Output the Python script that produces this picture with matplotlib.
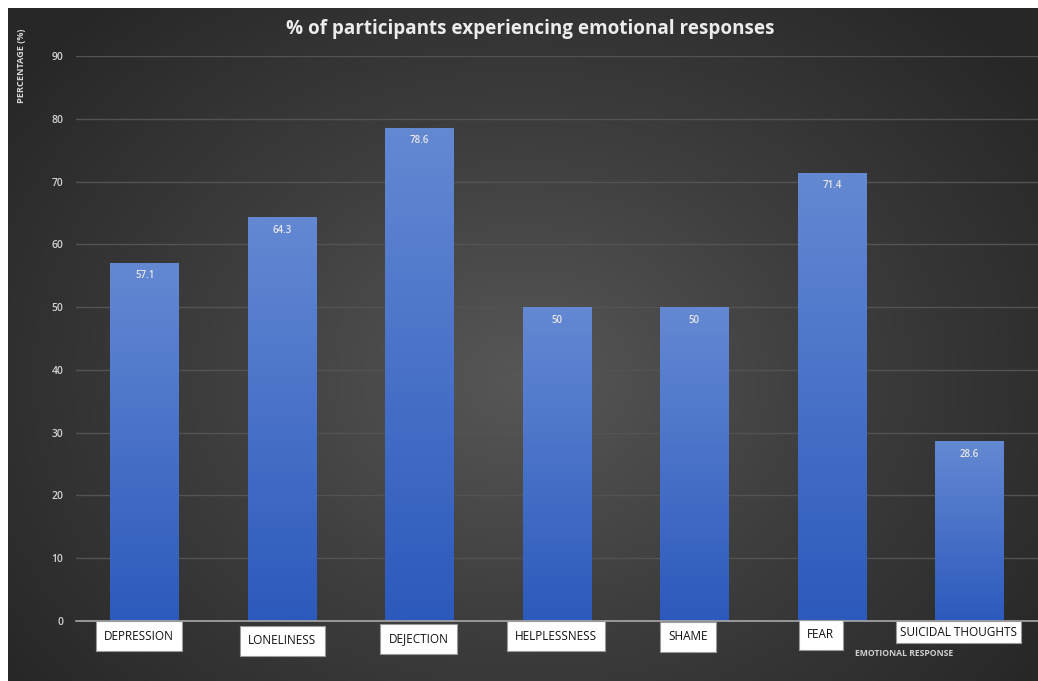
"""
Bar chart: % of participants experiencing emotional responses
(dark radial background, gradient bars, boxed category labels)
"""

import numpy as np
import matplotlib
matplotlib.use("Agg")
import matplotlib.pyplot as plt
from matplotlib.colors import LinearSegmentedColormap

# --- Data ---
CATEGORIES = ["DEPRESSION", "LONELINESS", "DEJECTION", "HELPLESSNESS",
              "SHAME", "FEAR", "SUICIDAL THOUGHTS"]
VALUES = [57.1, 64.3, 78.6, 50, 50, 71.4, 28.6]
VALUE_LABELS = ["57.1", "64.3", "78.6", "50", "50", "71.4", "28.6"]
Y_TICKS = [0, 10, 20, 30, 40, 50, 60, 70, 80, 90]

# --- Style ---
# label box offsets from the bar foot (pixels), they are staggered in the source
LABEL_OFFSETS = [(-6, -15), (0, -20), (-1, -18), (-1, -15), (-6, -16), (-11, -14), (-11, -11)]
BOX_PADS = [0.7, 0.7, 0.7, 0.7, 0.7, 0.7, 0.35]
BAR_TOP = "#6489d3"
BAR_BOTTOM = "#2c5abc"
FONT = ["Open Sans", "DejaVu Sans"]

plt.rcParams['font.family'] = FONT

W, H = 1038, 681
fig = plt.figure(figsize=(W / 100, H / 100), dpi=100)
fig.patch.set_facecolor("white")

# 1. radial dark background (white strip top and left as in the screenshot)
bg_ax = fig.add_axes([8 / W, 0, 1 - 8 / W, 1 - 8 / H])
bg_ax.set_axis_off()
yy, xx = np.mgrid[0:1:300j, 0:1:450j]
r = np.sqrt(((xx - 0.5) / 0.62) ** 2 + ((yy - 0.45) / 0.75) ** 2)
r = np.clip(r, 0, 1)
bg_cmap = LinearSegmentedColormap.from_list("bg", ["#575757", "#3d3d3d", "#272727"])
bg_ax.imshow(r, cmap=bg_cmap, aspect="auto", extent=[0, 1, 0, 1], origin="lower",
             interpolation="bilinear", vmin=0, vmax=1)
bg_ax.set_xlim(0, 1)
bg_ax.set_ylim(0, 1)

# 2. main axes
ax = fig.add_axes([76 / W, 1 - 621 / H, 1 - 76 / W, (621 - 56) / H])
ax.patch.set_alpha(0)
x = np.arange(len(CATEGORIES))
bars = ax.bar(x, VALUES, width=0.5, color=BAR_BOTTOM, zorder=2)

grad = np.linspace(0, 1, 256).reshape(-1, 1)
bar_cmap = LinearSegmentedColormap.from_list("bar", [BAR_BOTTOM, BAR_TOP])
for b in bars:
    bx, by = b.get_x(), b.get_y()
    im = ax.imshow(grad, cmap=bar_cmap, aspect="auto", origin="lower",
                   extent=[bx, bx + b.get_width(), by, by + b.get_height()], zorder=3)
    im.set_clip_path(b)

ax.set_xlim(-0.5, len(CATEGORIES) - 0.5)
ax.set_ylim(0, 90)
ax.set_yticks(Y_TICKS)
ax.set_xticks([])
ax.tick_params(axis="y", length=0, pad=9, labelsize=7.4, labelcolor="#d4d4d4")
for t in ax.get_yticklabels():
    t.set_fontweight("semibold")
ax.grid(axis="y", color="#535353", linewidth=1.0, zorder=1)
for s in ["top", "right", "left"]:
    ax.spines[s].set_visible(False)
ax.spines["bottom"].set_color("#a8a8a8")
ax.spines["bottom"].set_linewidth(1.2)
ax.spines["bottom"].set_zorder(4)

# value labels near the bar tops
for xi, v, lab in zip(x, VALUES, VALUE_LABELS):
    ax.annotate(lab, xy=(xi, v), xytext=(0, -13), textcoords="offset pixels",
                ha="center", va="center", fontsize=7, color="#e6e6e6",
                fontweight="semibold", zorder=5)

# boxed category labels under the axis
for xi, cat, (dx, dy), pad in zip(x, CATEGORIES, LABEL_OFFSETS, BOX_PADS):
    ax.annotate(cat, xy=(xi, 0), xytext=(dx, dy), textcoords="offset pixels",
                ha="center", va="center", fontsize=8.5, color="#111111",
                annotation_clip=False, zorder=6,
                bbox=dict(boxstyle=f"square,pad={pad}", facecolor="white",
                          edgecolor="#9a9a9a", linewidth=0.8))

# 3. titles
fig.text(530 / W, 1 - 29 / H, "% of participants experiencing emotional responses",
         ha="center", va="center", fontsize=13.6, fontweight="bold", color="#ececec")
fig.text(22 / W, 1 - 66 / H, "PERCENTAGE (%)", rotation=90, ha="center", va="center",
         fontsize=6.6, fontweight="bold", color="#d8d8d8")
fig.text(904 / W, 1 - 653 / H, "EMOTIONAL RESPONSE", ha="center", va="center",
         fontsize=6.2, fontweight="bold", color="#cfcfcf")

fig.savefig("out.png", dpi=100, facecolor=fig.get_facecolor())
